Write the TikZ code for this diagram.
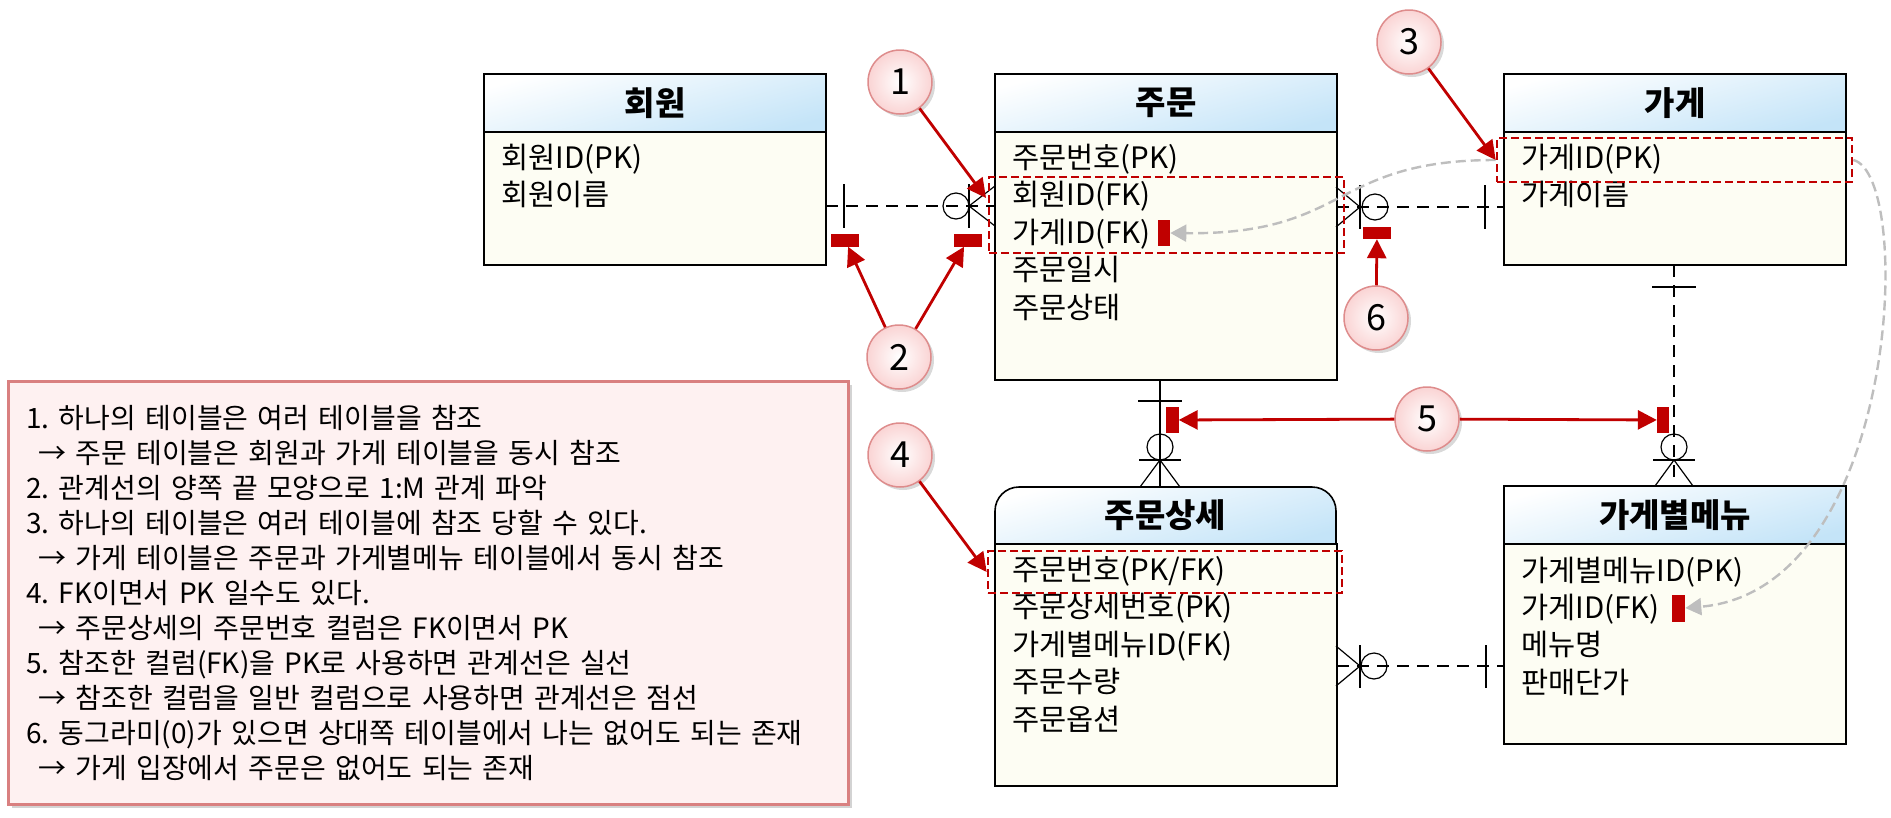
\documentclass[tikz,border=0pt]{standalone}
\usepackage{fontspec}
\setmainfont{Noto Sans CJK KR}
\usepackage{tikz}
\usetikzlibrary{arrows.meta,positioning,shadows}
\definecolor{erdRed}{RGB}{192,0,0}
\definecolor{erdGray}{RGB}{190,190,190}
\definecolor{hdrPale}{RGB}{196,228,248}
\definecolor{bodyIvory}{RGB}{253,253,243}
\definecolor{memoFill}{RGB}{254,241,241}
\definecolor{memoRim}{RGB}{217,128,128}
\definecolor{numRim}{RGB}{222,140,140}
\definecolor{numPink}{RGB}{250,212,212}

\begin{document}
\frenchspacing
\begin{tikzpicture}[x=1pt,y=-1pt,
    hdr/.style={draw, line width=1.6pt, outer sep=0pt, inner sep=0pt,
        minimum width=342pt, minimum height=58pt,
        top color=white, bottom color=hdrPale, shading angle=15,
        font=\fontsize{33}{36}\selectfont\bfseries},
    tbl/.style={draw, line width=1.6pt, outer sep=0pt, inner sep=0pt,
        fill=bodyIvory, minimum width=342pt},
    col/.style={anchor=west, inner sep=0pt, text height=25pt, text depth=5pt,
        font=\fontsize{29.5}{34}\selectfont},
    rel/.style={line width=1.2pt, dash pattern=on 12pt off 8pt},
    idrel/.style={line width=1.2pt},
    sym/.style={line width=1.2pt},
    hl/.style={draw=erdRed, line width=2.6pt, dash pattern=on 8pt off 4pt, inner sep=0pt},
    redtag/.style={fill=erdRed, inner sep=0pt},
    num/.style={circle, draw=numRim, line width=1.5pt, inner sep=0pt, minimum size=64pt,
        inner color=white, outer color=numPink, font=\fontsize{36}{40}\selectfont,
        drop shadow={opacity=0.3, shadow xshift=3pt, shadow yshift=-3pt}},
    callout/.style={erdRed, line width=2.8pt, -{Triangle[length=19pt,width=19pt]}},
    ref/.style={erdGray, line width=2.4pt, dash pattern=on 10pt off 5pt,
        -{Triangle[length=16pt,width=17pt]}},
    memo/.style={draw=memoRim, line width=2.5pt, fill=memoFill, align=left,
        minimum width=840pt, minimum height=423pt, text width=804pt, inner xsep=18pt,
        font=\fontsize{28}{35}\selectfont,
        drop shadow={opacity=0.35, shadow xshift=4pt, shadow yshift=-4pt}}]
    \useasboundingbox (0,0) rectangle (1891,817);

    % 회원
    \node[hdr, anchor=north west] (mbrH) at (484,74) {회원};
    \node[tbl, minimum height=133pt, below=0pt of mbrH] (mbr) {};
    \node[col] (mbrR1) at (501,158) {회원ID(PK)};
    \node[col] (mbrR2) at (501,195.5) {회원이름};

    % 주문
    \node[hdr, anchor=north west] (ordH) at (995,74) {주문};
    \node[tbl, minimum height=248pt, below=0pt of ordH] (ord) {};
    \node[col] (ordR1) at (1012,158) {주문번호(PK)};
    \node[col] (ordR2) at (1012,195.5) {회원ID(FK)};
    \node[col] (ordR3) at (1012,233) {가게ID(FK)};
    \node[col] (ordR4) at (1012,270.5) {주문일시};
    \node[col] (ordR5) at (1012,308) {주문상태};

    % 가게
    \node[hdr, anchor=north west] (stoH) at (1504,74) {가게};
    \node[tbl, minimum height=133pt, below=0pt of stoH] (sto) {};
    \node[col] (stoR1) at (1521,158) {가게ID(PK)};
    \node[col] (stoR2) at (1521,195.5) {가게이름};

    % 주문상세 (rounded top)
    \node[tbl, minimum height=242pt, anchor=north west] (odt) at (995,544) {};
    \draw[line width=1.6pt, top color=white, bottom color=hdrPale, shading angle=15]
        (995,544) -- (995,511) .. controls (995,497.7) and (1005.7,487) .. (1019,487)
        -- (1312,487) .. controls (1325.3,487) and (1336,497.7) .. (1336,511)
        -- (1336,544) -- cycle;
    \node[minimum width=342pt, minimum height=57pt, inner sep=0pt,
        font=\fontsize{33}{36}\selectfont\bfseries] (odtH) at (1165.5,515.5) {주문상세};
    \node[col] (odtR1) at (1012,570) {주문번호(PK/FK)};
    \node[col] (odtR2) at (1012,607.5) {주문상세번호(PK)};
    \node[col] (odtR3) at (1012,645) {가게별메뉴ID(FK)};
    \node[col] (odtR4) at (1012,682.5) {주문수량};
    \node[col] (odtR5) at (1012,720) {주문옵션};

    % 가게별메뉴
    \node[hdr, anchor=north west] (smnH) at (1504,486) {가게별메뉴};
    \node[tbl, minimum height=200pt, below=0pt of smnH] (smn) {};
    \node[col] (smnR1) at (1521,571) {가게별메뉴ID(PK)};
    \node[col] (smnR2) at (1521,608) {가게ID(FK)};
    \node[col] (smnR3) at (1521,645.5) {메뉴명};
    \node[col] (smnR4) at (1521,683) {판매단가};

    % relationship lines
    \draw[rel] (mbr.east |- 0,206) -- (ord.west |- 0,206);
    \draw[sym] (844,184) -- (844,228);
    \draw[sym] (956,206) circle (13pt);
    \draw[sym] (969,184) -- (969,228);
    \draw[sym] (995,186) -- (969,206) -- (995,226);

    \draw[rel] (ord.east |- 0,207) -- (sto.west |- 0,207);
    \draw[sym] (1336,187) -- (1360,207) -- (1336,227);
    \draw[sym] (1360,185) -- (1360,229);
    \draw[sym] (1375,207) circle (13pt);
    \draw[sym] (1485,185) -- (1485,229);

    \draw[idrel] (ord.south -| 1160,0) -- (odtH.north -| 1160,0);
    \draw[sym] (1138,401) -- (1182,401);
    \draw[sym] (1160,447) circle (13pt);
    \draw[sym] (1139,460) -- (1181,460);
    \draw[sym] (1140,487) -- (1160,460) -- (1180,487);

    \draw[rel] (sto.south -| 1674,0) -- (smnH.north -| 1674,0);
    \draw[sym] (1652,287) -- (1696,287);
    \draw[sym] (1674,447) circle (13pt);
    \draw[sym] (1653,460) -- (1695,460);
    \draw[sym] (1655,486) -- (1674,460) -- (1693,486);

    \draw[rel] (odt.east |- 0,666) -- (smn.west |- 0,666);
    \draw[sym] (1336,646) -- (1360,666) -- (1336,686);
    \draw[sym] (1360,645) -- (1360,688);
    \draw[sym] (1374,666) circle (13pt);
    \draw[sym] (1486,645) -- (1486,688);

    % highlighted columns
    \node[hl, minimum width=355pt, minimum height=76pt] (ordFK) at (1166.5,215) {};
    \node[hl, minimum width=355pt, minimum height=44pt] (stoPK) at (1674.5,160) {};
    \node[hl, minimum width=354pt, minimum height=42pt] (odtPK) at (1165,572) {};

    % red tags
    \node[redtag, minimum width=28pt, minimum height=13pt] (tag2a) at (845,240) {};
    \node[redtag, minimum width=28pt, minimum height=13pt] (tag2b) at (968,240) {};
    \node[redtag, minimum width=28pt, minimum height=12pt] (tag6) at (1377,233) {};
    \node[redtag, minimum width=13pt, minimum height=26pt] (tag5a) at (1172,420) {};
    \node[redtag, minimum width=12pt, minimum height=26pt] (tag5b) at (1663,420) {};
    \node[redtag, minimum width=12pt, minimum height=26pt, right=7pt of ordR3] (ordTag) {};
    \node[redtag, minimum width=13pt, minimum height=27pt, right=12pt of smnR2] (smnTag) {};

    % FK references
    \draw[ref] (stoPK.west) .. controls (1330,160) and (1350,235) .. (ordTag.east);
    \draw[ref] (stoPK.east) .. controls (1915,175) and (1900,590) .. (smnTag.east);

    % numbered callouts
    \node[num] (n1) at (900,82) {1};
    \node[num] (n2) at (899,357) {2};
    \node[num] (n3) at (1409,42) {3};
    \node[num] (n4) at (900,455) {4};
    \node[num] (n5) at (1427,419) {5};
    \node[num] (n6) at (1376,318) {6};
    \coordinate (hit1) at (986,198);
    \draw[callout] (n1) -- (hit1);
    \draw[callout] (n2) -- (tag2a);
    \draw[callout] (n2) -- (tag2b);
    \draw[callout] (n3) -- (stoPK.west);
    \draw[callout] (n4) -- (odtPK.west);
    \draw[callout] (n5) -- (tag5a);
    \draw[callout] (n5) -- (tag5b);
    \draw[callout] (n6) -- (tag6);

    % notes
    \node[memo, anchor=north west] (memo) at (7,380) {%
        1. 하나의 테이블은 여러 테이블을 참조\\
        \hspace*{12pt}→ 주문 테이블은 회원과 가게 테이블을 동시 참조\\
        2. 관계선의 양쪽 끝 모양으로 1:M 관계 파악\\
        3. 하나의 테이블은 여러 테이블에 참조 당할 수 있다.\\
        \hspace*{12pt}→ 가게 테이블은 주문과 가게별메뉴 테이블에서 동시 참조\\
        4. FK이면서 PK 일수도 있다.\\
        \hspace*{12pt}→ 주문상세의 주문번호 컬럼은 FK이면서 PK\\
        5. 참조한 컬럼(FK)을 PK로 사용하면 관계선은 실선\\
        \hspace*{12pt}→ 참조한 컬럼을 일반 컬럼으로 사용하면 관계선은 점선\\
        6. 동그라미(0)가 있으면 상대쪽 테이블에서 나는 없어도 되는 존재\\
        \hspace*{12pt}→ 가게 입장에서 주문은 없어도 되는 존재};
\end{tikzpicture}
\end{document}
